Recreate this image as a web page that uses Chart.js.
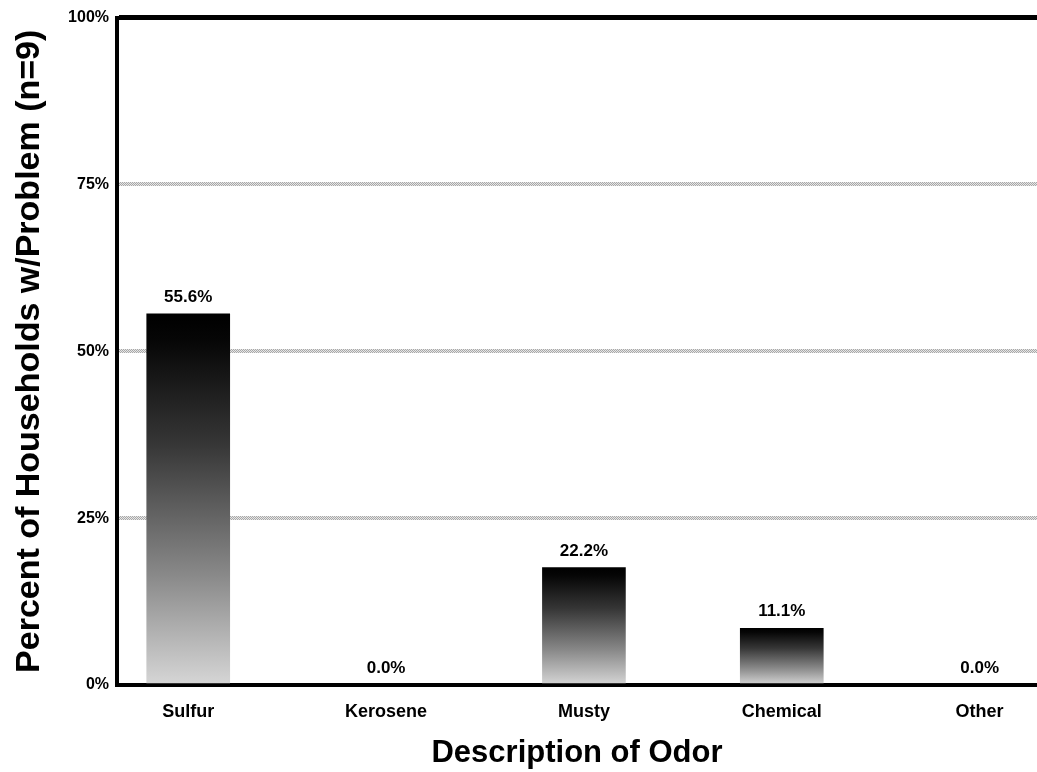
<!DOCTYPE html>
<html>
<head>
<meta charset="utf-8">
<script src="https://cdn.jsdelivr.net/npm/chart.js@4/dist/chart.umd.min.js"></script>
<style>
  html, body { margin: 0; padding: 0; background: #fff; }
  #wrap { width: 1037px; height: 772px; position: relative; }
</style>
</head>
<body>
<div id="wrap"><canvas id="c" width="1037" height="772"></canvas></div>
<script>
// ---- data ----
const categories = ["Sulfur", "Kerosene", "Musty", "Chemical", "Other"];
const barHeights = [55.6, 0, 17.6, 8.5, 0];          // bar heights as drawn in the picture
const valueLabels = ["55.6%", "0.0%", "22.2%", "11.1%", "0.0%"];  // printed labels
const yTicks = [0, 25, 50, 75, 100];
const yTitle = "Percent of Households w/Problem (n=9)";
const xTitle = "Description of Odor";

const FONT = '"Liberation Sans", Arial, Helvetica, sans-serif';

// dotted light-grey pattern for the grid lines
function makeGridPattern() {
  const pc = document.createElement('canvas');
  pc.width = 2; pc.height = 2;
  const p = pc.getContext('2d');
  p.fillStyle = '#e6e6e6'; p.fillRect(0, 0, 2, 2);
  p.fillStyle = '#a8a8a8'; p.fillRect(0, 0, 1, 1); p.fillRect(1, 1, 1, 1);
  return document.getElementById('c').getContext('2d').createPattern(pc, 'repeat');
}
const gridPattern = makeGridPattern();

function barGradient(context) {
  const chart = context.chart;
  const area = chart.chartArea;
  if (!area) return '#555';
  const v = context.raw && context.raw.y !== undefined ? context.raw.y : 0;
  const yS = chart.scales.y;
  const top = yS.getPixelForValue(v);
  const bottom = yS.getPixelForValue(0);
  if (bottom - top < 1) return '#000';
  const g = chart.ctx.createLinearGradient(0, top, 0, bottom);
  g.addColorStop(0, '#000000');
  g.addColorStop(0.07, '#060606');
  g.addColorStop(0.35, '#363636');
  g.addColorStop(0.7, '#888888');
  g.addColorStop(1, '#d6d6d6');
  return g;
}

const valueLabelPlugin = {
  id: 'valueLabels',
  afterDatasetsDraw(chart) {
    const ctx = chart.ctx;
    const meta = chart.getDatasetMeta(0);
    ctx.save();
    ctx.font = 'bold 17px ' + FONT;
    ctx.fillStyle = '#000';
    ctx.textAlign = 'center';
    ctx.textBaseline = 'bottom';
    meta.data.forEach((bar, i) => {
      ctx.fillText(valueLabels[i], bar.x, bar.y - 8);
    });
    ctx.restore();
  }
};

new Chart(document.getElementById('c'), {
  type: 'bar',
  data: {
    datasets: [{
      data: categories.map((c, i) => ({ x: i, y: barHeights[i] })),
      backgroundColor: barGradient,
      borderWidth: 0,
      barThickness: 83
    }]
  },
  options: {
    responsive: false,
    animation: false,
    layout: { padding: { top: 17, right: 0, bottom: 0, left: 0 } },
    plugins: {
      legend: { display: false },
      tooltip: { enabled: false }
    },
    scales: {
      x: {
        type: 'linear',
        offset: false,
        min: -0.36,
        max: 4.29,
        afterBuildTicks(scale) {
          scale.ticks = categories.map((c, i) => ({ value: i }));
        },
        afterFit(scale) { scale.height = 87; },
        grid: { display: false, drawTicks: false, offset: false },
        border: { display: true, width: 4, color: '#000' },
        ticks: {
          autoSkip: false,
          maxRotation: 0,
          padding: 16,
          color: '#000',
          font: { family: FONT, size: 18, weight: 'bold' },
          callback: (v) => categories[v] !== undefined ? categories[v] : ''
        },
        title: {
          display: true,
          text: xTitle,
          color: '#000',
          font: { family: FONT, size: 31, weight: 'bold' },
          padding: { top: 0, bottom: 0 }
        }
      },
      y: {
        min: 0,
        max: 100,
        afterBuildTicks(scale) {
          scale.ticks = yTicks.map(v => ({ value: v }));
        },
        afterFit(scale) { scale.width = 117; },
        grid: {
          drawTicks: false,
          color: (ctx) => ctx.tick && ctx.tick.value === 100 ? '#000' : (ctx.tick && ctx.tick.value === 0 ? 'rgba(0,0,0,0)' : gridPattern),
          lineWidth: (ctx) => ctx.tick && ctx.tick.value === 100 ? 5 : 4
        },
        border: { display: true, width: 4, color: '#000' },
        ticks: {
          padding: 8,
          color: '#000',
          font: { family: FONT, size: 16, weight: 'bold' },
          callback: (v) => v + '%'
        },
        title: {
          display: true,
          text: yTitle,
          color: '#000',
          font: { family: FONT, size: 34, weight: 'bold' },
          padding: { top: 9, bottom: 0 }
        }
      }
    }
  },
  plugins: [valueLabelPlugin]
});
</script>
</body>
</html>
